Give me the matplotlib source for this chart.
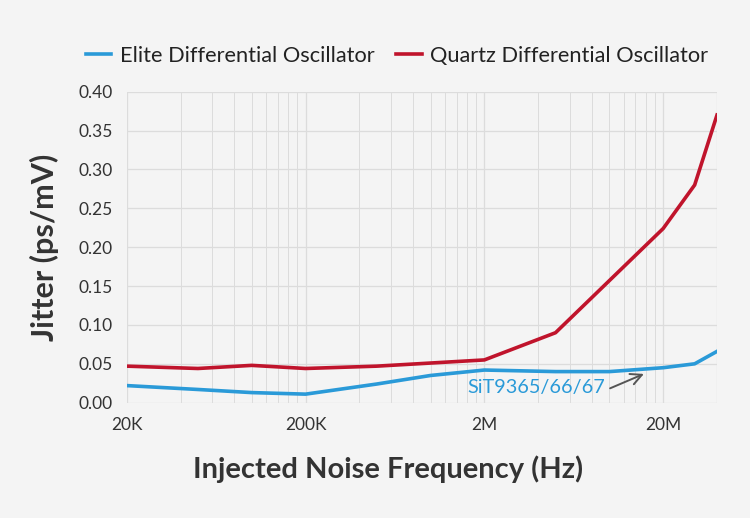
import numpy as np
import matplotlib.pyplot as plt
from matplotlib.ticker import FixedLocator, NullFormatter

plt.rcParams["font.family"] = ["Lato", "DejaVu Sans"]

# data (frequency in Hz, jitter in ps/mV)
freq = [20e3, 50e3, 100e3, 200e3, 500e3, 1e6, 2e6, 5e6, 10e6, 20e6, 30e6, 40e6]
elite = [0.022, 0.017, 0.013, 0.011, 0.024, 0.035, 0.042, 0.040, 0.040, 0.045, 0.050, 0.066]
quartz = [0.047, 0.044, 0.048, 0.044, 0.047, 0.051, 0.055, 0.090, 0.157, 0.224, 0.280, 0.370]

major_ticks = [20e3, 200e3, 2e6, 20e6]
major_labels = ["20K", "200K", "2M", "20M"]

bg = "#f4f4f4"
blue = "#2a9ad8"
red = "#c0142c"
grid_col = "#dcdcdc"

fig = plt.figure(figsize=(7.5, 5.18), dpi=100, facecolor=bg)
ax = fig.add_axes([0.169, 0.2226, 0.787, 0.6004], facecolor=bg)

ax.set_xscale("log")
ax.set_xlim(20e3, 40e6)
ax.set_ylim(0, 0.40)

minor = [2 * 10 ** e * k for e in range(4, 8) for k in range(2, 10)]
minor = [m for m in minor if 20e3 < m <= 40e6 and m not in major_ticks]
ax.xaxis.set_major_locator(FixedLocator(major_ticks))
ax.xaxis.set_minor_locator(FixedLocator(minor))
ax.xaxis.set_minor_formatter(NullFormatter())
ax.set_xticklabels(major_labels)
ax.set_yticks(np.arange(0, 0.41, 0.05))
ax.set_yticklabels([f"{v:.2f}" for v in np.arange(0, 0.41, 0.05)])

ax.grid(True, which="major", color=grid_col, linewidth=0.9)
ax.grid(True, which="minor", axis="x", color=grid_col, linewidth=0.7)
ax.axvline(40e6, color=grid_col, linewidth=0.9)
for s in ax.spines.values():
    s.set_visible(False)
ax.tick_params(which="both", length=0, labelsize=12.5, colors="#333333")
ax.tick_params(axis="x", pad=10)
ax.tick_params(axis="y", pad=10)

ax.plot(freq, elite, color=blue, linewidth=2.6, label="Elite Differential Oscillator")
ax.plot(freq, quartz, color=red, linewidth=2.6, label="Quartz Differential Oscillator")

ax.text(3.9e6, 0.0193, "SiT9365/66/67", color=blue, fontsize=14.3, ha="center", va="center")
ax.annotate("", xy=(15.6e6, 0.037), xytext=(10.1e6, 0.0185),
            arrowprops=dict(arrowstyle="->", color="#555555", lw=1.4,
                            shrinkA=0, shrinkB=0, mutation_scale=20))

ax.set_ylabel("Jitter (ps/mV)", fontsize=22, fontweight="bold", color="#333333", labelpad=14)
ax.set_xlabel("Injected Noise Frequency (Hz)", fontsize=21, fontweight="bold", color="#333333")
ax.xaxis.set_label_coords((388 - 127) / 590, -0.17)

fig.legend(loc="center left", bbox_to_anchor=(0.115, 0.892), ncol=2, frameon=False,
           fontsize=15.7, handlelength=1.15, handletextpad=0.4, columnspacing=1.0,
           labelcolor="#222222", borderaxespad=0, borderpad=0)

fig.savefig("out.png", dpi=100, facecolor=bg)
